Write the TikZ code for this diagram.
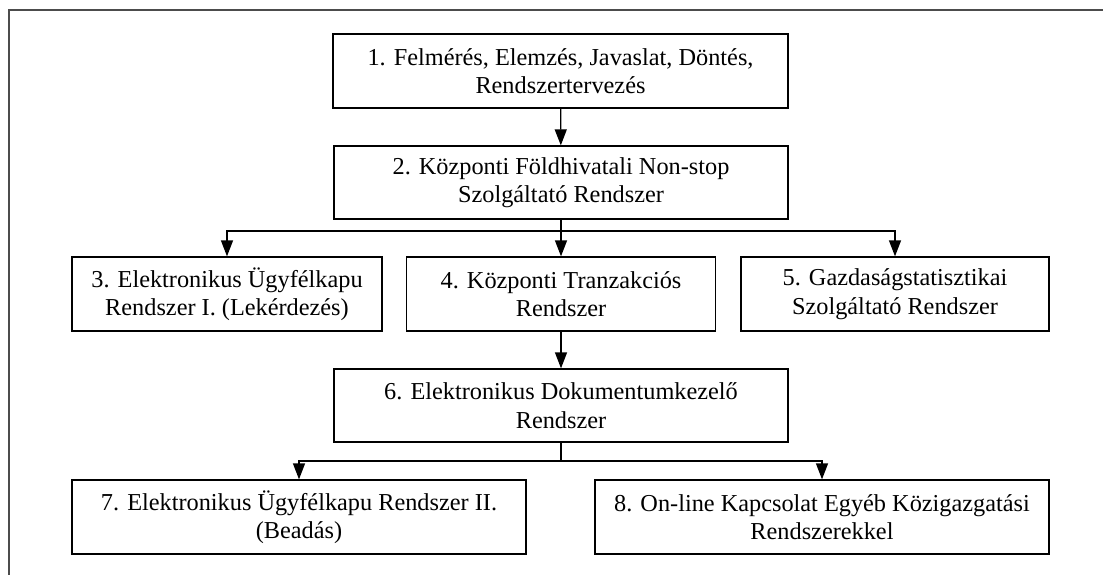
\documentclass[tikz,border=0pt]{standalone}
\usepackage{fontspec}
\setmainfont{Liberation Serif}
\usetikzlibrary{arrows.meta}
\tikzset{
  box/.style={draw=black, line width=1.3pt, align=center, inner sep=0pt,
    font=\fontsize{24.3}{28.5}\selectfont, text=black},
  arr/.style={line width=1.3pt, -{Triangle[length=16pt,width=12pt]}},
  link/.style={line width=1.3pt},
  frame/.style={draw=black!70, line width=2pt}
}
\begin{document}
\begin{tikzpicture}[x=1pt,y=-1pt]
\useasboundingbox (0,0) rectangle (1103,575);
\draw[frame] (9,575) -- (9,10) -- (1103,10);
\node[box, minimum width=455pt, minimum height=74pt] (n1) at (560.5,71) {1. Felmérés, Elemzés, Javaslat, Döntés,\\Rendszertervezés};
\node[box, minimum width=454pt, minimum height=73pt] (n2) at (561,182.5) {2. Központi Földhivatali Non-stop\\Szolgáltató Rendszer};
\node[box, minimum width=310pt, minimum height=74pt] (n3) at (227,294) {3. Elektronikus Ügyfélkapu\\Rendszer I. (Lekérdezés)};
\node[box, minimum width=309pt, minimum height=74pt] (n4) at (561,294) {4. Központi Tranzakciós\\Rendszer};
\node[box, minimum width=308pt, minimum height=74pt] (n5) at (895,294) {5. Gazdaságstatisztikai\\Szolgáltató Rendszer};
\node[box, minimum width=454pt, minimum height=73pt] (n6) at (561,405.5) {6. Elektronikus Dokumentumkezelő\\Rendszer};
\node[box, minimum width=454pt, minimum height=74pt] (n7) at (299,517) {7. Elektronikus Ügyfélkapu Rendszer II.\\(Beadás)};
\node[box, minimum width=454pt, minimum height=74pt] (n8) at (822,517) {8. On-line Kapcsolat Egyéb Közigazgatási\\Rendszerekkel};
\coordinate (j1) at (561,231);
\coordinate (j2) at (561,461);
\draw[arr] (n1) -- (n2);
\draw[link] (n2.south) -- (j1);
\draw[arr] (j1) -- (n4);
\draw[arr] (j1) -| (n3);
\draw[arr] (j1) -| (n5);
\draw[arr] (n4) -- (n6);
\draw[link] (n6.south) -- (j2);
\draw[arr] (j2) -| (n7);
\draw[arr] (j2) -| (n8);
\end{tikzpicture}
\end{document}
